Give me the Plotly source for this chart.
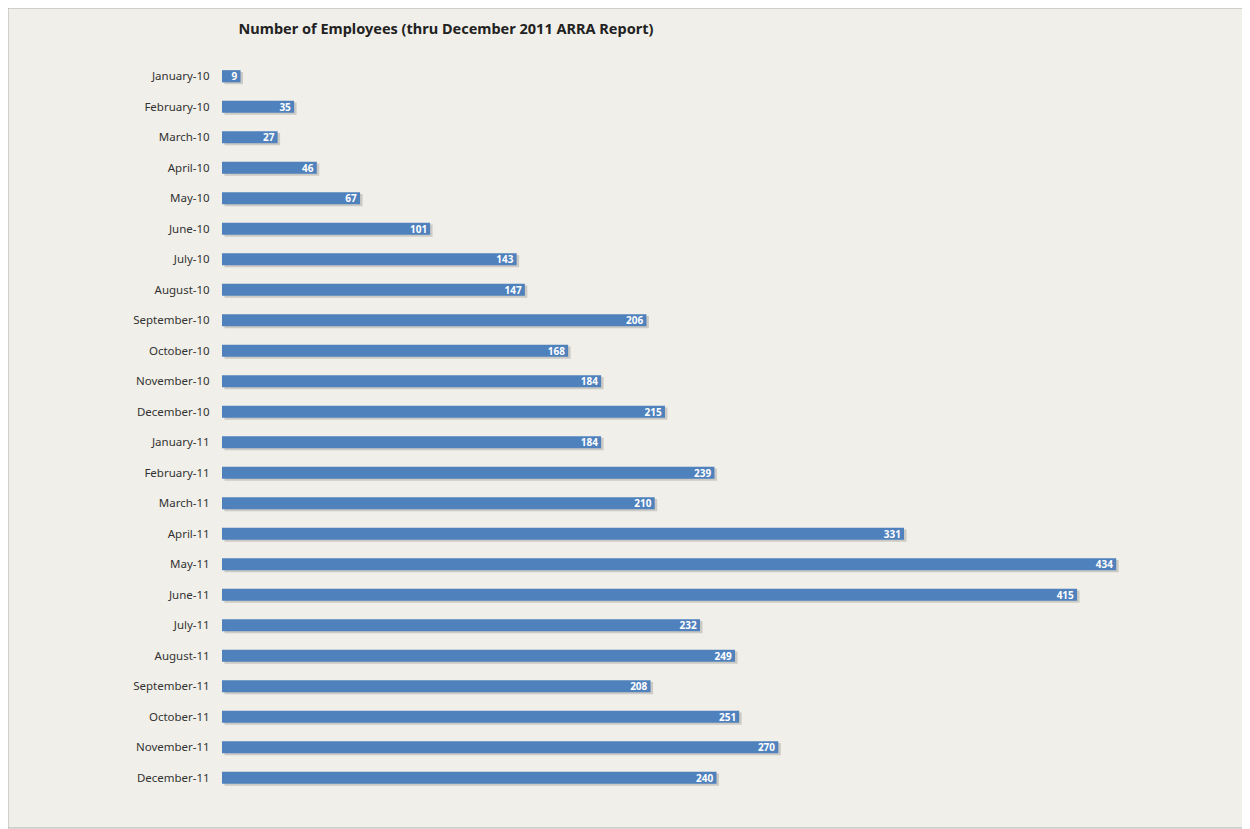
import plotly.graph_objects as go

months = ["January-10", "February-10", "March-10", "April-10", "May-10", "June-10",
          "July-10", "August-10", "September-10", "October-10", "November-10", "December-10",
          "January-11", "February-11", "March-11", "April-11", "May-11", "June-11",
          "July-11", "August-11", "September-11", "October-11", "November-11", "December-11"]
employees = [9, 35, 27, 46, 67, 101, 143, 147, 206, 168, 184, 215,
             184, 239, 210, 331, 434, 415, 232, 249, 208, 251, 270, 240]

title_text = "Number of Employees (thru December 2011 ARRA Report)"

OFF = 8  # page body offset
W, H = 1250, 829

fig = go.Figure()
# soft drop shadow behind bars
fig.add_trace(go.Bar(
    y=months, x=employees, orientation="h", base=1.2,
    width=0.4, offset=-0.14,
    marker=dict(color="rgba(90,90,90,0.25)", line=dict(width=0)),
    hoverinfo="skip",
))
fig.add_trace(go.Bar(
    y=months, x=employees, orientation="h",
    width=0.4, offset=-0.2,
    marker=dict(color="#4F81BD", line=dict(width=0)),
    text=["<b>" + str(v) + "</b>" for v in employees],
    textposition="inside", insidetextanchor="end", textangle=0,
    textfont=dict(color="white", size=10, family="Noto Sans"),
    constraintext="none",
    hoverinfo="x+y",
))

L, T, PW, PH = 222 - OFF, 61 - OFF, 989, 732
def px(x): return (x - OFF - L) / PW
def py(y): return (T + PH - (y - OFF)) / PH

fig.add_shape(type="rect", xref="paper", yref="paper",
              x0=px(8), x1=px(1249), y0=py(828), y1=py(8),
              fillcolor="#F0EFE9", line=dict(color="#B0B0B0", width=1), layer="below")

fig.update_layout(
    width=W, height=H,
    margin=dict(l=L, r=W - L - PW, t=T, b=H - T - PH),
    paper_bgcolor="white", plot_bgcolor="rgba(0,0,0,0)",
    barmode="overlay",
    showlegend=False,
    title=dict(text="<b>" + title_text + "</b>", x=(446 - OFF) / W, xanchor="center",
               y=1 - (29 - OFF) / H, yanchor="middle",
               font=dict(family="Noto Sans", size=14.5, color="#222222")),
    xaxis=dict(range=[0, 480], visible=False),
    yaxis=dict(autorange="reversed", showgrid=False, zeroline=False, showline=False,
               ticks="outside", ticklen=9, tickcolor="rgba(0,0,0,0)",
               tickfont=dict(family="Noto Sans", size=11.5, color="#333333")),
)

fig.write_html("out.html")
